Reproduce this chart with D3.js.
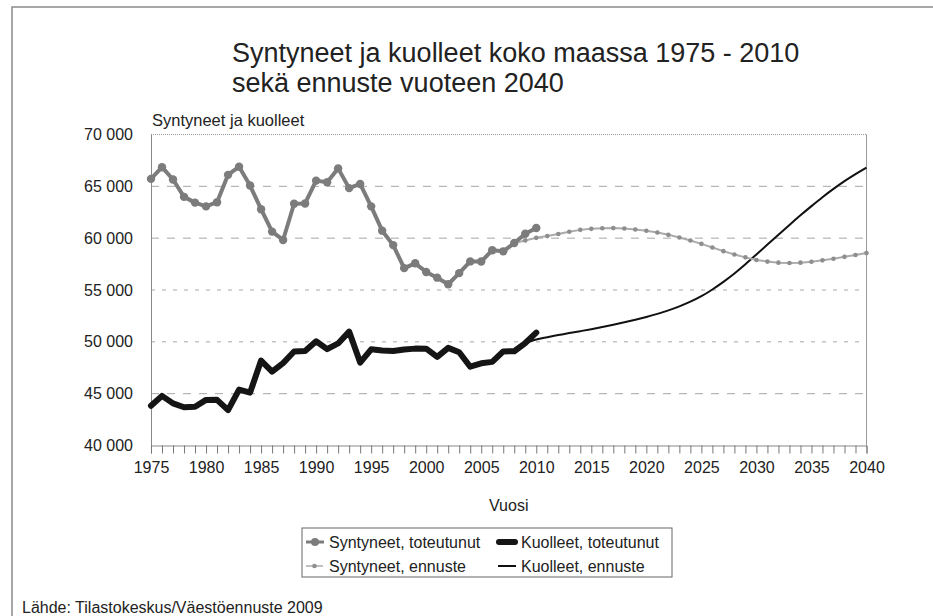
<!DOCTYPE html>
<html><head><meta charset="utf-8">
<script src="https://cdn.jsdelivr.net/npm/d3@7"></script>
<style>
html,body{margin:0;padding:0;background:#fff;}
svg text{font-family:"Liberation Sans",Arial,Helvetica,sans-serif;fill:#222;}
</style></head>
<body><svg id="c" width="933" height="616"></svg>
<script>
// ---- data ----
const yearsActual = d3.range(1975, 2011);
const birthsActual = [65719,66846,65659,63983,63428,63064,63469,66106,66892,65076,62796,60632,59827,63316,63348,65549,65395,66731,64826,65231,63067,60723,59329,57108,57574,56742,56189,55555,56630,57758,57745,58840,58729,59530,60430,60980];
const deathsActual = [43828,44786,44065,43692,43738,44398,44404,43408,45388,45098,48198,47135,47949,49063,49110,50058,49294,49844,50988,48000,49280,49167,49108,49262,49345,49339,48550,49418,48996,47600,47928,48065,49077,49094,49883,50887];
const yearsBirthsForecast = d3.range(2008, 2041);
const birthsForecast = [59530,59780,60030,60200,60400,60620,60800,60900,60960,60970,60930,60840,60720,60540,60320,60060,59770,59450,59100,58750,58420,58150,57900,57740,57640,57610,57640,57730,57860,58020,58200,58380,58560];
const yearsDeathsForecast = d3.range(2009, 2041);
const deathsForecast = [49883,50230,50450,50650,50850,51030,51220,51430,51650,51880,52130,52400,52700,53030,53420,53870,54400,55050,55780,56590,57480,58420,59380,60340,61280,62200,63090,63950,64750,65500,66180,66800];
const yTicks = [40000,45000,50000,55000,60000,65000,70000];
const xLabelYears = [1975,1980,1985,1990,1995,2000,2005,2010,2015,2020,2025,2030,2035,2040];
const titleLines = ["Syntyneet ja kuolleet koko maassa 1975 - 2010","sekä ennuste vuoteen 2040"];
const yAxisTitle = "Syntyneet ja kuolleet";
const xAxisTitle = "Vuosi";
const source = "Lähde: Tilastokeskus/Väestöennuste 2009";
const legendItems = ["Syntyneet, toteutunut","Kuolleet, toteutunut","Syntyneet, ennuste","Kuolleet, ennuste"];

const svg = d3.select("#c");
const fmt = v => d3.format(",")(v).replace(/,/g, " ");

// frame
svg.append("path").attr("d","M12,620V7H940").attr("fill","none").attr("stroke","#8a8a8a").attr("stroke-width",1.5);

const x = d3.scaleLinear().domain([1975,2040]).range([151,866.5]);
const y = d3.scaleLinear().domain([40000,70000]).range([445.5,134.5]);

// title
svg.append("text").attr("x",232).attr("y",61.5).attr("font-size",27).text(titleLines[0]);
svg.append("text").attr("x",232).attr("y",91.5).attr("font-size",27).text(titleLines[1]);
svg.append("text").attr("x",152).attr("y",126).attr("font-size",16.5).text(yAxisTitle);

// gridlines
const g = svg.append("g");
g.selectAll("line.grid").data(yTicks.filter(t=>t>40000 && t<70000)).enter().append("line")
  .attr("x1",x(1975)).attr("x2",x(2040)).attr("y1",d=>y(d)).attr("y2",d=>y(d))
  .attr("stroke","#a8a8a8").attr("stroke-width",1)
  .attr("stroke-dasharray",d=>(d===55000||d===50000)?"4,7":"8,8");
// plot top (dotted) and right border
g.append("line").attr("x1",x(1975)).attr("x2",x(2040)).attr("y1",y(70000)).attr("y2",y(70000))
  .attr("stroke","#999").attr("stroke-dasharray","1,1");
g.append("line").attr("x1",x(2040)).attr("x2",x(2040)).attr("y1",y(70000)).attr("y2",y(40000))
  .attr("stroke","#999");

// y axis
const ya = svg.append("g").attr("transform",`translate(${x(1975)},0)`)
  .call(d3.axisLeft(y).tickValues(yTicks).tickSize(0).tickPadding(18).tickFormat(fmt));
ya.select(".domain").attr("stroke","#888");
ya.selectAll("text").attr("font-size",16).attr("fill","#222").attr("font-family",null);

// x axis
const xa = svg.append("g").attr("transform",`translate(0,${y(40000)})`)
  .call(d3.axisBottom(x).tickValues(d3.range(1975,2041)).tickSize(8).tickPadding(8)
  .tickFormat(d=> xLabelYears.includes(d)? String(d) : ""));
xa.select(".domain").attr("stroke","#888");
xa.selectAll(".tick line").attr("stroke","#777");
xa.selectAll("text").attr("font-size",16).attr("fill","#222").attr("font-family",null);

svg.append("text").attr("x",(x(1975)+x(2040))/2).attr("y",511).attr("text-anchor","middle").attr("font-size",16).text(xAxisTitle);

// lines
const line = d3.line().x(d=>x(d[0])).y(d=>y(d[1]));
const bA = yearsActual.map((yr,i)=>[yr,birthsActual[i]]);
const dA = yearsActual.map((yr,i)=>[yr,deathsActual[i]]);
const bF = yearsBirthsForecast.map((yr,i)=>[yr,birthsForecast[i]]);
const dF = yearsDeathsForecast.map((yr,i)=>[yr,deathsForecast[i]]);

svg.append("path").attr("d",line.curve(d3.curveMonotoneX)(dF)).attr("fill","none").attr("stroke","#111").attr("stroke-width",2);
line.curve(d3.curveLinear);
svg.append("path").attr("d",line(bF)).attr("fill","none").attr("stroke","#ababab").attr("stroke-width",2);
svg.selectAll("circle.bf").data(bF.slice(1)).enter().append("circle")
  .attr("cx",d=>x(d[0])).attr("cy",d=>y(d[1])).attr("r",2.3).attr("fill","#8e8e8e");

svg.append("path").attr("d",line(bA)).attr("fill","none").attr("stroke","#7c7c7c").attr("stroke-width",4).attr("stroke-linejoin","round");
svg.selectAll("circle.ba").data(bA).enter().append("circle")
  .attr("cx",d=>x(d[0])).attr("cy",d=>y(d[1])).attr("r",4.2).attr("fill","#7c7c7c");

svg.append("path").attr("d",line(dA)).attr("fill","none").attr("stroke","#151515").attr("stroke-width",6).attr("stroke-linejoin","round").attr("stroke-linecap","round");

// legend
const lg = svg.append("g");
lg.append("rect").attr("x",302).attr("y",528).attr("width",370).attr("height",49).attr("fill","#fff").attr("stroke","#666");
// row 1
lg.append("line").attr("x1",306).attr("x2",324).attr("y1",542).attr("y2",542).attr("stroke","#7c7c7c").attr("stroke-width",3);
lg.append("circle").attr("cx",315).attr("cy",542).attr("r",4).attr("fill","#7c7c7c");
lg.append("text").attr("x",329).attr("y",547.5).attr("font-size",16).text(legendItems[0]);
lg.append("line").attr("x1",499).attr("x2",515).attr("y1",542).attr("y2",542).attr("stroke","#151515").attr("stroke-width",6).attr("stroke-linecap","round");
lg.append("text").attr("x",521).attr("y",547.5).attr("font-size",16).text(legendItems[1]);
// row 2
lg.append("line").attr("x1",306).attr("x2",323).attr("y1",566).attr("y2",566).attr("stroke","#ababab").attr("stroke-width",1.5);
lg.append("circle").attr("cx",314.5).attr("cy",566).attr("r",2.3).attr("fill","#8e8e8e");
lg.append("text").attr("x",329).attr("y",571.5).attr("font-size",16).text(legendItems[2]);
lg.append("line").attr("x1",498).attr("x2",516).attr("y1",566).attr("y2",566).attr("stroke","#111").attr("stroke-width",2);
lg.append("text").attr("x",521).attr("y",571.5).attr("font-size",16).text(legendItems[3]);

svg.append("text").attr("x",22).attr("y",612.5).attr("font-size",16).text(source);
</script></body></html>
